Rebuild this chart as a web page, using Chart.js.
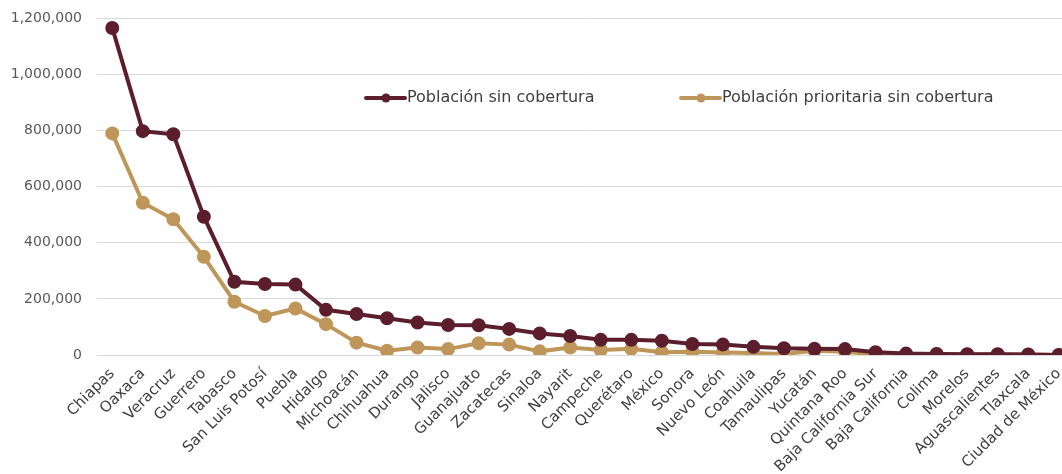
<!DOCTYPE html>
<html>
<head>
<meta charset="utf-8">
<script src="https://cdn.jsdelivr.net/npm/chart.js@4"></script>
<style>
  html, body { margin: 0; padding: 0; background: #fff; overflow: hidden; }
  #wrap { position: relative; width: 1083px; height: 479px; margin-top: -5px; }
</style>
</head>
<body>
<div id="wrap"><canvas id="chart"></canvas></div>
<script>
// States (x axis)
const estados = ["Chiapas", "Oaxaca", "Veracruz", "Guerrero", "Tabasco", "San Luis Potosí",
  "Puebla", "Hidalgo", "Michoacán", "Chihuahua", "Durango", "Jalisco", "Guanajuato",
  "Zacatecas", "Sinaloa", "Nayarit", "Campeche", "Querétaro", "México", "Sonora",
  "Nuevo León", "Coahuila", "Tamaulipas", "Yucatán", "Quintana Roo", "Baja California Sur",
  "Baja California", "Colima", "Morelos", "Aguascalientes", "Tlaxcala", "Ciudad de México"];

// Población sin cobertura
const sinCobertura = [1166000, 798000, 787000, 493000, 261000, 253000, 251000, 161000,
  146000, 131000, 116000, 107000, 106000, 93000, 77000, 68000, 54000, 54000, 51000,
  39000, 37000, 29000, 24000, 22000, 21000, 10000, 5000, 4000, 3000, 3000, 2000, 0];

// Población prioritaria sin cobertura
const prioritaria = [790000, 543000, 484000, 350000, 190000, 139000, 166000, 110000,
  44000, 15000, 27000, 21000, 42000, 37000, 13000, 27000, 18000, 22000, 10000,
  12000, 9000, 7000, 3500, 15000, 12000, 2000, 2500, 3000, 2000, 2000, 1500, 0];

const yTicks = [0, 200000, 400000, 600000, 800000, 1000000, 1200000];

const oscuro = "#5c1d2d";
const dorado = "#bf9659";
const fontFam = "'DejaVu Sans', sans-serif";

// legend drawn inside the plot area (canvas is shifted up 5px)
const legendInside = {
  id: "legendInside",
  afterDraw(chart) {
    const c = chart.ctx;
    const items = [
      { text: "Población sin cobertura", color: oscuro, x: 366 },
      { text: "Población prioritaria sin cobertura", color: dorado, x: 681 }
    ];
    const y = 103;
    c.save();
    c.font = "16px " + fontFam;
    c.textBaseline = "middle";
    items.forEach(it => {
      c.strokeStyle = it.color;
      c.lineWidth = 4;
      c.lineCap = "round";
      c.beginPath();
      c.moveTo(it.x, y);
      c.lineTo(it.x + 39, y);
      c.stroke();
      c.fillStyle = it.color;
      c.beginPath();
      c.arc(it.x + 20, y, 4.5, 0, Math.PI * 2);
      c.fill();
      c.fillStyle = "#404040";
      c.fillText(it.text, it.x + 41, y);
    });
    c.restore();
  }
};

new Chart(document.getElementById("chart"), {
  type: "line",
  data: {
    labels: estados,
    datasets: [
      {
        label: "Población sin cobertura",
        data: sinCobertura,
        borderColor: oscuro,
        backgroundColor: oscuro,
        borderWidth: 4,
        pointRadius: 5,
        pointHoverRadius: 5,
        tension: 0
      },
      {
        label: "Población prioritaria sin cobertura",
        data: prioritaria,
        borderColor: dorado,
        backgroundColor: dorado,
        borderWidth: 4,
        pointRadius: 5,
        pointHoverRadius: 5,
        tension: 0
      }
    ]
  },
  options: {
    responsive: true,
    maintainAspectRatio: false,
    animation: false,
    layout: { padding: { top: 0, left: 0, right: 0, bottom: 0 } },
    plugins: {
      legend: { display: false },
      tooltip: { enabled: false }
    },
    scales: {
      x: {
        offset: true,
        afterFit(axis) { axis.height = 119; },
        grid: { display: false },
        border: { color: "#d9d9d9", width: 1 },
        ticks: {
          color: "#404040",
          font: { family: fontFam, size: 15 },
          maxRotation: 45,
          minRotation: 45,
          autoSkip: false,
          padding: 2
        }
      },
      y: {
        min: 0,
        max: 1200000,
        afterFit(axis) { axis.width = 97; },
        afterBuildTicks(axis) {
          axis.ticks = yTicks.map(v => ({ value: v }));
        },
        grid: { color: "#d9d9d9", drawTicks: false },
        border: { display: false },
        ticks: {
          color: "#595959",
          font: { family: fontFam, size: 14 },
          padding: 15,
          callback: v => v.toLocaleString("en-US")
        }
      }
    }
  },
  plugins: [legendInside]
});
</script>
</body>
</html>
